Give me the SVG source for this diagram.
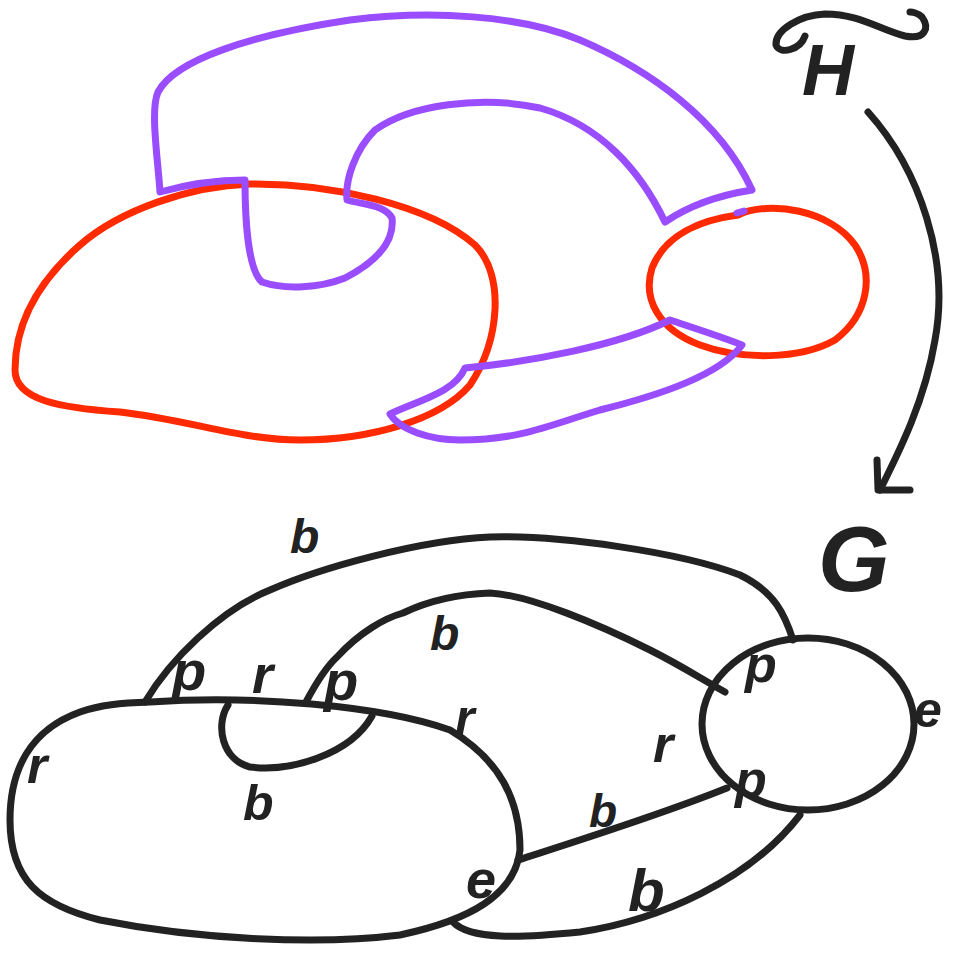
<svg xmlns="http://www.w3.org/2000/svg" width="957" height="956" viewBox="0 0 957 956">
<style>
.s{fill:none;stroke-width:7;stroke-linecap:round;stroke-linejoin:round}
.red{stroke:#ff2a00}
.pur{stroke:#9a4dff}
.blk{stroke:#222}
.t{font-family:"Liberation Sans",Arial,sans-serif;font-weight:bold;font-style:italic;fill:#222}
</style>
<rect width="957" height="956" fill="#fff"/>
<g id="top-red-big"><path class="s red" d="M 250 184 C 330 183 430 205 475 245 C 505 275 500 340 470 385 C 440 420 370 440 300 440 C 240 440 190 420 120 412 C 60 408 15 400 15 370 C 15 320 40 280 80 245 C 120 210 190 186 250 184 Z"/></g>
<g id="top-red-small"><path class="s red" d="M 738 215 C 770 200 830 210 855 245 C 875 275 868 315 835 340 C 800 360 740 360 700 345 C 660 330 642 300 652 268 C 665 235 700 220 738 215 Z"/></g>
<g id="top-purple-upper"><path class="s pur" d="M 160 192 C 158 160 150 110 158 92 C 175 60 250 35 350 20 C 430 10 520 15 580 40 C 650 70 720 120 752 190 C 720 195 690 205 665 222 C 640 170 600 125 540 108 C 480 95 410 105 375 130 C 355 150 345 180 347 200 C 365 205 385 205 392 218 C 395 245 370 265 345 278 C 320 288 285 290 262 282 C 248 270 245 220 245 180 C 215 180 185 185 160 192 Z"/><path class="s pur" d="M 737 213 L 744 211"/></g>
<g id="top-purple-lower"><path class="s pur" d="M 465 368 C 530 362 620 345 670 320 C 700 330 725 338 742 345 C 720 375 660 395 600 410 C 550 425 520 440 460 440 C 430 440 400 430 390 414 C 420 400 455 392 465 368 Z"/></g>
<g id="H-label"><path class="s blk" d="M 805 36 C 800 50 780 55 776 45 C 775 30 800 15 825 14 C 860 14 880 30 905 36 C 925 40 930 28 922 17 C 918 13 912 12 910 12"/><text class="t" x="802" y="95" font-size="72" font-style="normal">H</text></g>
<g id="G-label"><text class="t" x="818" y="591" font-size="92" font-style="normal">G</text></g>
<g id="ellipse-left"><path class="s blk" d="M 150 702 C 250 695 380 705 450 730 C 500 760 520 800 520 850 C 515 895 470 920 400 935 C 320 945 200 940 100 920 C 40 905 10 880 10 820 C 10 770 30 730 80 712 C 100 705 120 703 150 702 Z"/></g>
<g id="circle-right"><ellipse class="s blk" cx="808" cy="724" rx="106" ry="86"/></g>
<g id="connectors">
<path class="s blk" d="M 145 702 C 170 660 220 610 270 590 C 320 568 420 540 490 537 C 560 535 680 552 740 575 C 775 592 785 615 793 640"/>
<path class="s blk" d="M 306 702 C 315 685 325 668 337 657 C 360 632 385 618 403 613 C 430 600 460 594 490 593 C 530 595 600 625 650 650 C 680 665 700 678 725 692"/>
<path class="s blk" d="M 228 705 C 215 725 222 760 250 767 C 290 772 350 755 372 716"/>
<path class="s blk" d="M 518 860 C 580 840 660 815 727 788"/>
<path class="s blk" d="M 453 922 C 470 940 520 938 580 932 C 660 920 750 880 800 815"/>
<path class="s blk" d="M 868 112 C 920 170 950 260 935 340 C 925 400 900 450 880 490"/>
<path class="s blk" d="M 877 460 L 878 490 L 910 490"/>
</g>
<g id="labels">
<text class="t" x="290" y="553" font-size="48">b</text>
<text class="t" x="430" y="650" font-size="48">b</text>
<text class="t" x="243" y="820" font-size="50">b</text>
<text class="t" x="589" y="827" font-size="46">b</text>
<text class="t" x="628" y="911" font-size="60">b</text>
<text class="t" x="172" y="690" font-size="56">p</text>
<text class="t" x="324" y="700" font-size="56">p</text>
<text class="t" x="745" y="682" font-size="52">p</text>
<text class="t" x="735" y="797" font-size="52">p</text>
<text class="t" x="252" y="693" font-size="54">r</text>
<text class="t" x="455" y="735" font-size="50">r</text>
<text class="t" x="27" y="783" font-size="52">r</text>
<text class="t" x="653" y="762" font-size="52">r</text>
<text class="t" x="466" y="898" font-size="54">e</text>
<text class="t" x="914" y="727" font-size="50">e</text>
</g>
</svg>
